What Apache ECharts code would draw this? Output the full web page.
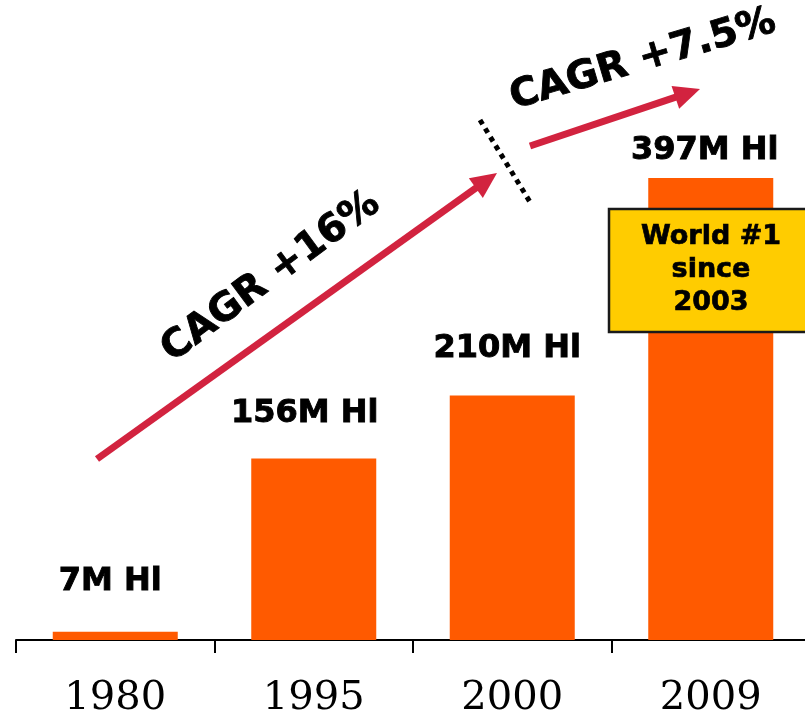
<!DOCTYPE html>
<html>
<head>
<meta charset="utf-8">
<title>Volume growth</title>
<script src="https://cdn.jsdelivr.net/npm/echarts@6/dist/echarts.min.js"></script>
<style>
  html, body { margin: 0; padding: 0; background: #ffffff; }
  #chart { width: 805px; height: 717px; }
</style>
</head>
<body>
<div id="chart"></div>
<script>
// Years shown on the category axis
var years = ['1980', '1995', '2000', '2009'];
// Volume in millions of hectolitres
var volumes = [7, 156, 210, 397];
// Text printed above each bar
var volumeLabels = ['7M Hl', '156M Hl', '210M Hl', '397M Hl'];
// Growth annotations
var cagrTexts = ['CAGR +16%', 'CAGR +7.5%'];
var badgeLines = ['World #1', 'since', '2003'];

var BAR = '#ff5a00';
var RED = '#d2233f';

// per-bar label placement (gap above bar, horizontal nudge)
var labelGap = [34, 29, 31, 11];
var labelShift = [-5, -9, -5, -6];

var chart = echarts.init(document.getElementById('chart'), null, { renderer: 'canvas' });

function arrow(x1, y1, x2, y2, width, headLen, headHalf) {
  var dx = x2 - x1, dy = y2 - y1;
  var len = Math.sqrt(dx * dx + dy * dy);
  var ux = dx / len, uy = dy / len;
  var bx = x2 - ux * headLen, by = y2 - uy * headLen;
  var px = -uy, py = ux;
  return [
    {
      type: 'line',
      shape: { x1: x1, y1: y1, x2: bx + ux * 2, y2: by + uy * 2 },
      style: { stroke: RED, lineWidth: width, lineCap: 'butt' },
      z: 10
    },
    {
      type: 'polygon',
      shape: { points: [[x2, y2], [bx + px * headHalf, by + py * headHalf], [bx - px * headHalf, by - py * headHalf]] },
      style: { fill: RED },
      z: 10
    }
  ];
}

var HEAVY = { textBorderColor: '#000000', textBorderWidth: 0.9 };

function rotatedText(str, cx, cy, deg, size) {
  return {
    type: 'text',
    x: cx, y: cy,
    rotation: deg * Math.PI / 180,
    style: {
      text: str, x: 0, y: 0,
      font: 'bold ' + size + 'px "DejaVu Sans", Verdana, sans-serif',
      fill: '#000000',
      stroke: '#000000', lineWidth: 0.9,
      align: 'center', verticalAlign: 'middle',
      textAlign: 'center', textVerticalAlign: 'middle'
    },
    z: 10
  };
}

var graphics = []
  .concat(arrow(97, 459, 497, 173, 7, 26, 12))
  .concat(arrow(530, 146, 700, 89, 7, 26, 12))
  .concat([
    {
      type: 'line',
      shape: { x1: 480, y1: 120, x2: 530, y2: 202 },
      style: { stroke: '#000000', lineWidth: 5, lineDash: [5, 5], lineCap: 'butt' },
      z: 10
    },
    rotatedText(cagrTexts[0], 271, 277, 36.5, 39),
    rotatedText(cagrTexts[1], 643, 60, 16.5, 39),
    {
      type: 'rect',
      shape: { x: 609, y: 209, width: 206, height: 123 },
      style: { fill: '#ffcc00', stroke: '#1a1a1a', lineWidth: 2.5 },
      z: 10
    },
    {
      type: 'text',
      x: 711, y: 270,
      style: {
        text: badgeLines.join('\n'),
        x: 0, y: 0,
        font: 'bold 27px "DejaVu Sans", Verdana, sans-serif',
        lineHeight: 33,
        fill: '#000000',
        stroke: '#000000', lineWidth: 0.7,
        align: 'center', verticalAlign: 'middle',
        textAlign: 'center', textVerticalAlign: 'middle'
      },
      z: 11
    }
  ]);

var option = {
  animation: false,
  backgroundColor: '#ffffff',
  grid: { left: 16, top: 58, width: 794, bottom: 77, containLabel: false, outerBoundsMode: 'none' },
  xAxis: {
    type: 'category',
    data: years,
    axisLine: { show: true, lineStyle: { color: '#000000', width: 2 } },
    axisTick: { show: true, length: 13, lineStyle: { color: '#000000', width: 2 } },
    axisLabel: {
      color: '#000000',
      fontFamily: '"DejaVu Serif", "Liberation Serif", serif',
      fontSize: 40,
      lineHeight: 40,
      margin: 39
    },
    splitLine: { show: false }
  },
  yAxis: {
    type: 'value',
    min: 0, max: 500,
    show: false,
    splitLine: { show: false }
  },
  series: [{
    type: 'bar',
    barWidth: 125,
    itemStyle: { color: BAR },
    data: volumes.map(function (v, i) {
      return {
        value: v,
        label: {
          show: true,
          position: 'top',
          distance: labelGap[i],
          offset: [labelShift[i], 0],
          formatter: volumeLabels[i],
          color: '#000000',
          fontFamily: '"DejaVu Sans", Verdana, sans-serif',
          fontWeight: 'bold',
          fontSize: 32,
          lineHeight: 32,
          textBorderColor: HEAVY.textBorderColor,
          textBorderWidth: HEAVY.textBorderWidth
        }
      };
    })
  }],
  graphic: graphics
};

chart.setOption(option);
</script>
</body>
</html>
